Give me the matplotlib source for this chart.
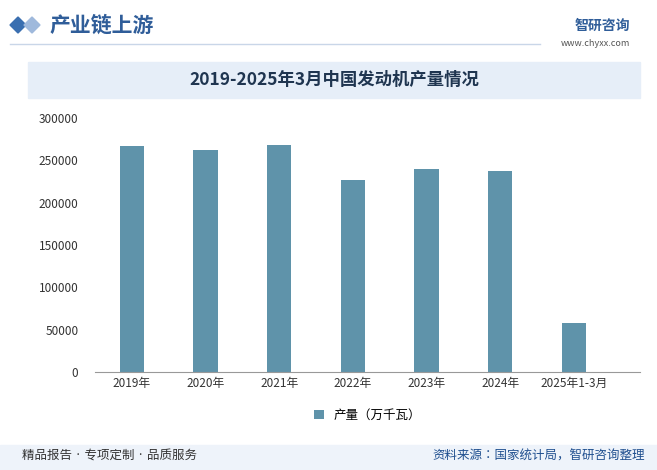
import matplotlib.pyplot as plt
from matplotlib.patches import Rectangle, Polygon

plt.rcParams['font.family'] = ['Noto Sans CJK SC', 'Noto Sans CJK JP', 'DejaVu Sans']

# Data
years = ['2019年', '2020年', '2021年', '2022年', '2023年', '2024年', '2025年1-3月']
output = [267000, 262000, 268000, 227000, 240000, 237000, 58000]

W, H = 657, 470
fig = plt.figure(figsize=(W / 100, H / 100), dpi=100)
fig.patch.set_facecolor('white')

# Header
fig.patches.append(Polygon([(10 / W, 1 - 25 / H), (18 / W, 1 - 17 / H), (26 / W, 1 - 25 / H), (18 / W, 1 - 33 / H)],
                           closed=True, transform=fig.transFigure, color='#3a6fb0'))
fig.patches.append(Polygon([(24 / W, 1 - 25 / H), (32 / W, 1 - 17 / H), (40 / W, 1 - 25 / H), (32 / W, 1 - 33 / H)],
                           closed=True, transform=fig.transFigure, color='#9fb9dc'))
fig.text(50 / W, 1 - 25 / H, '产业链上游', fontsize=15, color='#2f5d99', va='center', fontweight='bold')
fig.text(630 / W, 1 - 26 / H, '智研咨询', fontsize=10, color='#2f5d99', va='center', ha='right', fontweight='bold')
fig.text(630 / W, 1 - 44 / H, 'www.chyxx.com', fontsize=6.5, color='#555555', va='center', ha='right')
fig.lines.append(plt.Line2D([10 / W, 540 / W], [1 - 44 / H, 1 - 44 / H], transform=fig.transFigure,
                            color='#c9d6e8', lw=1))

# Title band
fig.patches.append(Rectangle((28 / W, 1 - 98 / H), 612 / W, 36 / H, transform=fig.transFigure,
                             color='#e6eef8', zorder=0))
fig.text(334 / W, 1 - 80 / H, '2019-2025年3月中国发动机产量情况', fontsize=12.5, fontweight='bold',
         color='#1f3550', ha='center', va='center')

# Footer
fig.patches.append(Rectangle((0, 0), 1, 25 / H, transform=fig.transFigure, color='#eef3fa', zorder=0))
fig.text(22 / W, 14 / H, '精品报告 · 专项定制 · 品质服务', fontsize=9, color='#333333', va='center')
fig.text(645 / W, 14 / H, '资料来源：国家统计局，智研咨询整理', fontsize=9, color='#1f4f8f', va='center', ha='right')

# Chart
ax = fig.add_axes([95 / W, 1 - 372 / H, 545 / W, 254 / H])
x = range(len(years))
ax.bar(x, output, width=0.33, color='#5f93aa', label='产量（万千瓦）')
ax.set_ylim(0, 300000)
ax.set_xlim(-0.5, 6.9)
ax.set_yticks(range(0, 300001, 50000))
ax.set_xticks(list(x))
ax.set_xticklabels(years)
ax.tick_params(axis='both', labelsize=8.5, colors='#333333', length=0)
ax.tick_params(axis='y', pad=12)
for s in ['top', 'right', 'left']:
    ax.spines[s].set_visible(False)
ax.spines['bottom'].set_color('#999999')
ax.legend(loc='upper center', bbox_to_anchor=(0.5, -0.1), frameon=False, fontsize=9,
          handlelength=0.8, handleheight=0.8)

fig.savefig('out.png', dpi=100)
